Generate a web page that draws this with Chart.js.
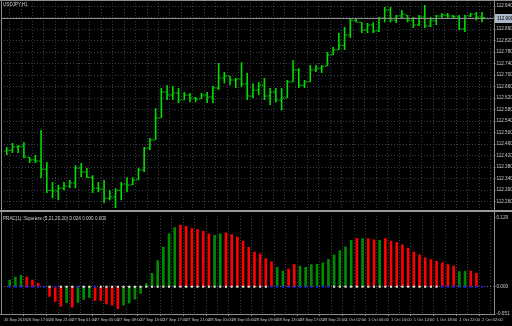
<!DOCTYPE html>
<html>
<head>
<meta charset="utf-8">
<script src="https://cdn.jsdelivr.net/npm/chart.js@4.4.1/dist/chart.umd.min.js"></script>
<style>
  html, body { margin: 0; padding: 0; background: #000; }
  #wrap { position: relative; width: 512px; height: 326px; background: #000; overflow: hidden; }
  #priceCanvas { position: absolute; left: 0; top: 0; }
  #sep { position: absolute; left: 0; top: 210px; width: 512px; height: 2px; background: #9a9a9a; }
  #oscCanvas { position: absolute; left: 0; top: 212px; }
</style>
</head>
<body>
<div id="wrap">
  <canvas id="priceCanvas" width="512" height="210"></canvas>
  <div id="sep"></div>
  <canvas id="oscCanvas" width="512" height="114"></canvas>
</div>
<script>
// USDJPY H1, one entry per bar (84 bars)
const barOpen = [112.436,112.439,112.450,112.453,112.415,112.405,112.401,112.373,112.300,112.297,
  112.307,112.314,112.325,112.377,112.363,112.345,112.307,112.304,112.272,112.276,
  112.300,112.321,112.318,112.335,112.370,112.446,112.474,112.551,112.641,112.631,
  112.638,112.613,112.631,112.620,112.617,112.631,112.624,112.655,112.690,112.697,
  112.683,112.686,112.669,112.627,112.648,112.665,112.627,112.641,112.613,112.620,
  112.676,112.718,112.665,112.676,112.718,112.724,112.731,112.770,112.787,112.804,
  112.839,112.891,112.884,112.857,112.874,112.853,112.898,112.926,112.891,112.905,
  112.909,112.891,112.874,112.902,112.871,112.891,112.905,112.909,112.905,112.903,
  112.860,112.905,112.912,112.902];
const barHigh = [112.450,112.464,112.457,112.467,112.415,112.422,112.509,112.398,112.328,112.318,
  112.328,112.335,112.387,112.394,112.377,112.352,112.328,112.335,112.300,112.307,
  112.328,112.345,112.345,112.377,112.450,112.481,112.585,112.655,112.665,112.662,
  112.655,112.641,112.638,112.624,112.638,112.641,112.662,112.742,112.711,112.697,
  112.690,112.745,112.707,112.672,112.676,112.690,112.655,112.655,112.655,112.683,
  112.752,112.724,112.683,112.735,112.735,112.735,112.780,112.798,112.846,112.867,
  112.898,112.898,112.884,112.881,112.884,112.902,112.937,112.937,112.909,112.926,
  112.909,112.902,112.909,112.944,112.902,112.909,112.916,112.916,112.909,112.909,
  112.909,112.916,112.919,112.919];
const barLow = [112.422,112.429,112.429,112.411,112.394,112.394,112.342,112.290,112.272,112.265,
  112.300,112.307,112.307,112.345,112.342,112.290,112.293,112.255,112.265,112.238,
  112.265,112.293,112.318,112.335,112.363,112.439,112.474,112.551,112.613,112.613,
  112.603,112.613,112.606,112.606,112.617,112.603,112.603,112.648,112.672,112.665,
  112.655,112.658,112.613,112.620,112.631,112.613,112.596,112.606,112.578,112.620,
  112.676,112.655,112.655,112.676,112.711,112.707,112.731,112.770,112.787,112.787,
  112.829,112.884,112.846,112.846,112.846,112.850,112.884,112.884,112.881,112.898,
  112.884,112.864,112.871,112.864,112.867,112.874,112.898,112.898,112.898,112.857,
  112.850,112.902,112.891,112.884];
const barClose = [112.439,112.450,112.453,112.415,112.405,112.401,112.373,112.300,112.297,112.307,
  112.314,112.325,112.377,112.363,112.345,112.307,112.304,112.272,112.276,112.300,
  112.321,112.318,112.335,112.370,112.446,112.474,112.551,112.641,112.631,112.638,
  112.613,112.631,112.620,112.617,112.631,112.624,112.655,112.690,112.697,112.683,
  112.686,112.669,112.627,112.648,112.665,112.627,112.641,112.613,112.620,112.676,
  112.718,112.665,112.676,112.718,112.724,112.731,112.770,112.787,112.804,112.839,
  112.891,112.884,112.857,112.874,112.853,112.898,112.926,112.891,112.905,112.912,
  112.891,112.874,112.902,112.871,112.891,112.905,112.909,112.905,112.903,112.860,
  112.905,112.912,112.902,112.900];

// squeeze histogram
const oscValues = [0.0127,0.0182,0.0213,0.0182,0.0127,0.0064,0.0009,-0.0182,-0.0273,-0.0363,
  -0.0291,-0.0382,-0.0291,-0.0236,-0.0200,-0.0254,-0.0254,-0.0322,-0.0345,-0.0412,
  -0.0345,-0.0303,-0.0231,-0.0122,0.0060,0.0254,0.0491,0.0745,0.0994,0.1108,
  0.1157,0.1132,0.1090,0.1072,0.1041,0.0994,0.0963,0.0994,0.1012,0.0981,
  0.0932,0.0859,0.0740,0.0649,0.0618,0.0527,0.0467,0.0363,0.0296,0.0333,
  0.0418,0.0387,0.0363,0.0418,0.0423,0.0449,0.0514,0.0600,0.0678,0.0750,
  0.0872,0.0909,0.0903,0.0906,0.0878,0.0872,0.0903,0.0859,0.0830,0.0787,
  0.0721,0.0649,0.0600,0.0545,0.0509,0.0478,0.0449,0.0418,0.0387,0.0285,
  0.0290,0.0295,0.0254,0.0236];
const oscRising = 'gggrrrrrrrgrgggrrrrrggggggggggrrrrrrggrrrrrrrrrggrrggggggggggrgrrgrrrrrrrrrrrrrggrr';
const squeezeOn = 'bbbbbbbwbwwwbwwbwwwwwwwwwwwwwwwwwwwwwwwwwwwwwwbbbbbbbbbbbwwwwwwwwwwwwwwwwwwwbbbbbbbb';

const timeLabels = ['26 Sep 2018','26 Sep 17:00','26 Sep 21:00','27 Sep 01:00','27 Sep 05:00',
  '27 Sep 09:00','27 Sep 13:00','27 Sep 17:00','27 Sep 21:00','28 Sep 01:00','28 Sep 05:00',
  '28 Sep 09:00','28 Sep 13:00','28 Sep 17:00','28 Sep 21:00','1 Oct 02:00','1 Oct 06:00',
  '1 Oct 10:00','1 Oct 14:00','1 Oct 18:00','1 Oct 22:00','2 Oct 02:00'];
const priceTicks = [112.940,112.900,112.860,112.820,112.780,112.740,112.700,112.660,112.620,
  112.580,112.540,112.500,112.460,112.420,112.380,112.340,112.300,112.260];
const oscTicks = [0.129, 0, -0.051];

const symbolTitle = 'USDJPY,H1';
const oscTitle = 'PRAC(1): Squeeze (5,21,20,20) 0.024 0.000 0.000';

// one empty slot before the first bar, two after the last (chart shift)
const pad = arr => [null, ...arr, null, null];
const slotLabels = pad(barOpen).map((_, i) => (i % 4 === 0 && timeLabels[i / 4]) ? timeLabels[i / 4] : '');
const lastClose = barClose[barClose.length - 1];
const tickHalf = 0.0017;

const font = { family: 'Liberation Sans', size: 4.6 };
const timeFont = { family: 'Liberation Sans', size: 4 };
const gridCol = '#3a3f4a';
const axisCol = '#8a8a8a';
const textCol = '#cfcfcf';
const barGreen = '#00dc00';

const priceDecor = {
  id: 'priceDecor',
  afterDraw(chart) {
    const { ctx, chartArea: a } = chart;
    const y = chart.scales.y.getPixelForValue(lastClose);
    ctx.save();
    ctx.strokeStyle = axisCol;
    ctx.lineWidth = 1;
    ctx.beginPath();
    ctx.moveTo(Math.round(a.right) + 0.5, 0);
    ctx.lineTo(Math.round(a.right) + 0.5, chart.height);
    ctx.moveTo(0, 0.5);
    ctx.lineTo(chart.width, 0.5);
    ctx.moveTo(1.5, 0);
    ctx.lineTo(1.5, chart.height);
    ctx.stroke();
    ctx.strokeStyle = '#8c8c8c';
    ctx.beginPath();
    ctx.moveTo(a.left, Math.round(y) + 0.5);
    ctx.lineTo(a.right, Math.round(y) + 0.5);
    ctx.stroke();
    ctx.fillStyle = '#a9b8c8';
    ctx.fillRect(Math.round(a.right) + 1, Math.round(y) - 4, 19, 9);
    ctx.fillStyle = '#000';
    ctx.font = font.size + 'px ' + font.family;
    ctx.textBaseline = 'middle';
    ctx.fillText(lastClose.toFixed(3), Math.round(a.right) + 3, Math.round(y) + 0.5);
    ctx.fillStyle = textCol;
    ctx.textBaseline = 'top';
    ctx.fillText(symbolTitle, 3, 2);
    ctx.restore();
  }
};

const oscDecor = {
  id: 'oscDecor',
  afterDraw(chart) {
    const { ctx, chartArea: a } = chart;
    ctx.save();
    ctx.strokeStyle = axisCol;
    ctx.lineWidth = 1;
    ctx.beginPath();
    ctx.moveTo(Math.round(a.right) + 0.5, 0);
    ctx.lineTo(Math.round(a.right) + 0.5, Math.round(a.bottom) + 0.5);
    ctx.lineTo(0, Math.round(a.bottom) + 0.5);
    ctx.moveTo(1.5, 0);
    ctx.lineTo(1.5, a.bottom);
    ctx.stroke();
    ctx.fillStyle = textCol;
    ctx.font = font.size + 'px ' + font.family;
    ctx.textBaseline = 'top';
    ctx.fillText(oscTitle, 3, 4);
    ctx.restore();
  }
};

new Chart(document.getElementById('priceCanvas'), {
  type: 'bar',
  data: {
    labels: slotLabels,
    datasets: [
      { data: pad(barOpen.map(v => [v - tickHalf, v + tickHalf])), backgroundColor: barGreen },
      { data: pad(barLow.map((v, i) => [v, barHigh[i]])), backgroundColor: barGreen },
      { data: pad(barClose.map(v => [v - tickHalf, v + tickHalf])), backgroundColor: barGreen }
    ]
  },
  options: {
    responsive: false,
    animation: false,
    devicePixelRatio: 1,
    datasets: { bar: { categoryPercentage: 0.85, barPercentage: 1, borderWidth: 0 } },
    layout: { padding: { left: 1, right: 0, top: 0, bottom: 2 } },
    plugins: { legend: { display: false }, tooltip: { enabled: false } },
    scales: {
      x: {
        type: 'category',
        offset: false,
        grid: { color: c => c.index % 2 === 0 ? gridCol : 'rgba(0,0,0,0)', drawTicks: false },
        border: { display: false, dash: [1, 2] },
        ticks: { display: false, autoSkip: false },
        afterFit: s => { s.height = 0; s.paddingLeft = 0; s.paddingRight = 0; }
      },
      y: {
        position: 'right',
        min: 112.238,
        max: 112.961,
        afterBuildTicks: s => { s.ticks = priceTicks.map(v => ({ value: v })); },
        afterFit: s => { s.width = 18.5; s.paddingTop = 0; s.paddingBottom = 0; },
        grid: { color: gridCol, tickColor: axisCol, tickLength: 2 },
        border: { display: false, dash: [1, 2] },
        ticks: {
          font, color: textCol, padding: 1,
          callback: v => Math.abs(v - lastClose) < 0.02 ? '' : v.toFixed(3)
        }
      }
    }
  },
  plugins: [priceDecor]
});

new Chart(document.getElementById('oscCanvas'), {
  type: 'bar',
  data: {
    labels: slotLabels,
    datasets: [
      {
        type: 'line',
        order: 0,
        data: pad(oscValues.map(() => 0)),
        showLine: false,
        pointStyle: 'rect',
        pointRadius: 1.5,
        pointBorderWidth: 0,
        pointBackgroundColor: pad(squeezeOn.split('').map(c => c === 'b' ? '#1a1aff' : '#e6e6e6'))
      },
      {
        order: 1,
        data: pad(oscValues),
        barThickness: 2,
        borderWidth: 0,
        backgroundColor: pad(oscRising.split('').map(c => c === 'g' ? '#008c00' : '#ff0000'))
      }
    ]
  },
  options: {
    responsive: false,
    animation: false,
    devicePixelRatio: 1,
    layout: { padding: { left: 1, right: 0, top: 1, bottom: 0 } },
    plugins: { legend: { display: false }, tooltip: { enabled: false } },
    scales: {
      x: {
        type: 'category',
        offset: false,
        grid: {
          color: c => c.index % 2 === 0 ? gridCol : 'rgba(0,0,0,0)',
          tickColor: c => c.index % 4 === 0 ? axisCol : 'rgba(0,0,0,0)',
          drawTicks: true,
          tickLength: 2
        },
        border: { display: false, dash: [1, 2] },
        ticks: {
          font: timeFont, color: textCol, autoSkip: false, maxRotation: 0, minRotation: 0,
          align: 'start', padding: 1
        },
        afterFit: s => { s.height = 12; s.paddingLeft = 0; s.paddingRight = 0; }
      },
      y: {
        position: 'right',
        min: -0.051,
        max: 0.1327,
        afterBuildTicks: s => { s.ticks = oscTicks.map(v => ({ value: v })); },
        afterFit: s => { s.width = 18.5; s.paddingTop = 0; s.paddingBottom = 0; },
        grid: {
          color: c => c.tick && c.tick.value === 0 ? '#6a6a6a' : 'rgba(0,0,0,0)',
          tickColor: axisCol,
          tickLength: 2
        },
        border: { display: false, dash: [1, 2] },
        ticks: { font, color: textCol, padding: 1, callback: v => v.toFixed(3) }
      }
    }
  },
  plugins: [oscDecor]
});
</script>
</body>
</html>
